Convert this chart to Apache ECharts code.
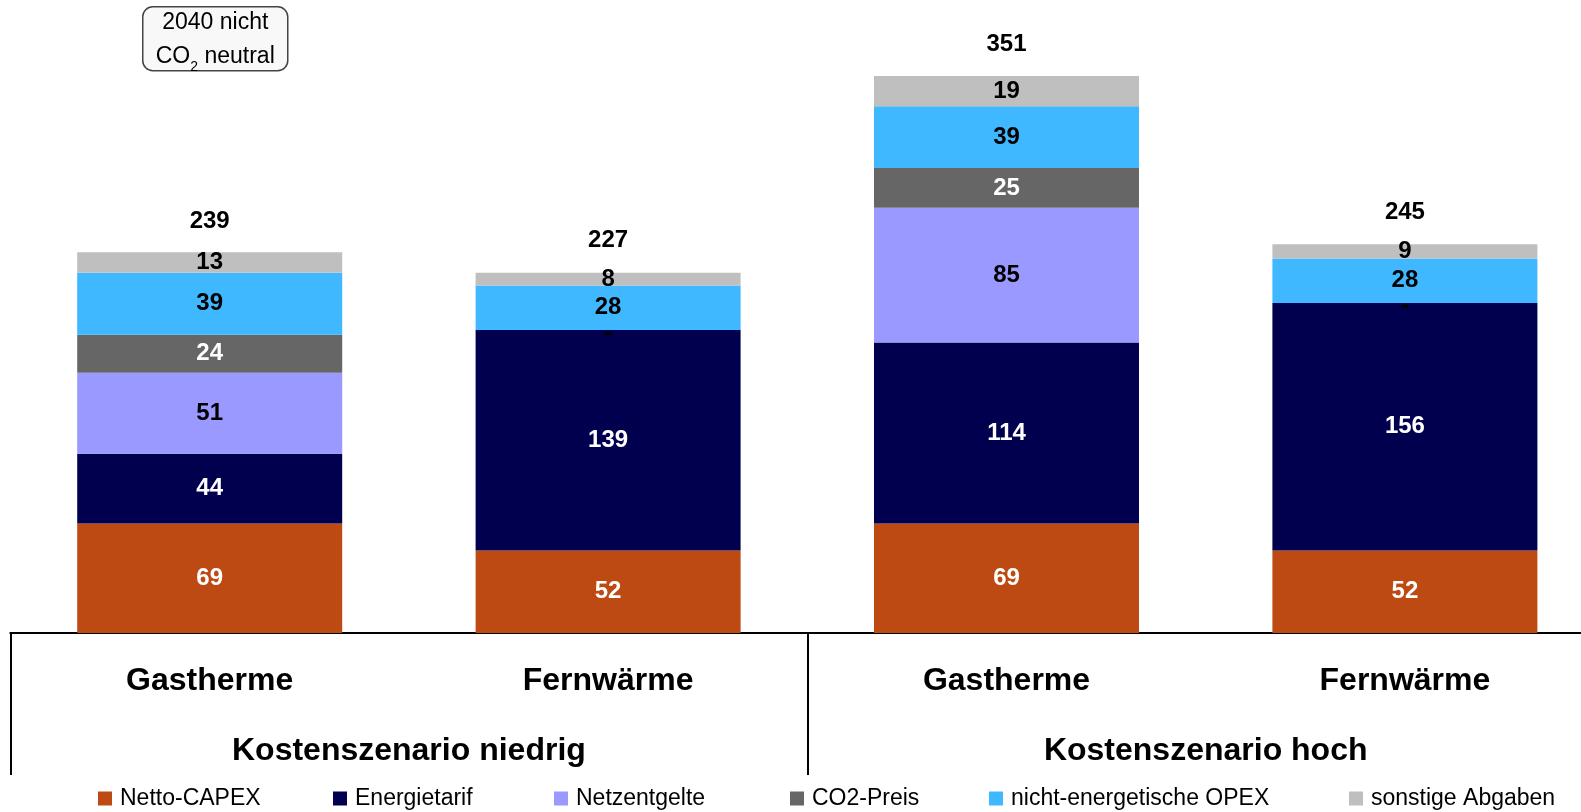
<!DOCTYPE html>
<html>
<head>
<meta charset="utf-8">
<script src="https://cdn.jsdelivr.net/npm/echarts@6/dist/echarts.min.js"></script>
<style>
html,body{margin:0;padding:0;background:#fff;}
#chart{width:1581px;height:812px;}
</style>
</head>
<body>
<div id="chart"></div>
<script>
const categories = ['Gastherme', 'Fernwärme', 'Gastherme', 'Fernwärme'];
const groups = ['Kostenszenario niedrig', 'Kostenszenario hoch'];
const seriesNames = ['Netto-CAPEX', 'Energietarif', 'Netzentgelte', 'CO2-Preis', 'nicht-energetische OPEX', 'sonstige Abgaben'];
const nettoCapex = [69, 52, 69, 52];
const energietarif = [44, 139, 114, 156];
const netzentgelte = [51, 0, 85, 0];
const co2Preis = [24, 0, 25, 0];
const opex = [39, 28, 39, 28];
const sonstige = [13, 8, 19, 9];
const totals = [239, 227, 351, 245];

const colors = ['#BD4A12', '#00004E', '#9999FF', '#666666', '#3FB8FF', '#BFBFBF'];
const labelColors = ['#fff', '#fff', '#000', '#fff', '#000', '#000'];
const values = [nettoCapex, energietarif, netzentgelte, co2Preis, opex, sonstige];
const FONT = '"Liberation Sans", Arial, sans-serif';

const chart = echarts.init(document.getElementById('chart'));

const series = seriesNames.map((name, i) => ({
  name: name,
  type: 'bar',
  stack: 'total',
  barWidth: 265,
  xAxisIndex: 0,
  data: values[i].map(v => v === 0 ? { value: 0, label: { color: '#000', fontSize: 26, offset: [0, 3] } } : v),
  itemStyle: { color: colors[i] },
  label: {
    show: true,
    position: 'inside',
    fontFamily: FONT,
    fontSize: 24,
    fontWeight: 'bold',
    color: labelColors[i],
    formatter: p => (p.value === 0 ? '-' : String(p.value))
  },
  emphasis: { disabled: true }
}));

series.push({
  name: 'Summe',
  type: 'bar',
  barWidth: 265,
  barGap: '-100%',
  xAxisIndex: 0,
  z: 1,
  data: totals,
  itemStyle: { color: 'rgba(0,0,0,0)' },
  label: {
    show: true,
    position: 'top',
    distance: 20,
    fontFamily: FONT,
    fontSize: 24,
    fontWeight: 'bold',
    color: '#000'
  },
  emphasis: { disabled: true },
  silent: true
});

const legendLefts = [98, 333, 554, 790, 989, 1349];
const legends = seriesNames.map((n, i) => ({
  data: [n],
  left: legendLefts[i],
  top: 787,
  padding: 0,
  itemWidth: 14,
  itemHeight: 14,
  itemGap: 0,
  icon: 'rect',
  selectedMode: false,
  textStyle: { fontFamily: FONT, fontSize: 23, color: '#000', padding: [0, 0, 0, 3] }
}));

const option = {
  animation: false,
  backgroundColor: '#fff',
  legend: legends,
  grid: { left: 10.5, top: 30, width: 1593.6, height: 603, containLabel: false, outerBoundsMode: 'none' },
  xAxis: [
    {
      type: 'category',
      data: categories,
      position: 'bottom',
      axisLine: { show: true, onZero: false, lineStyle: { color: '#000', width: 2 } },
      axisTick: { show: false },
      axisLabel: { margin: 32, fontFamily: FONT, fontSize: 32, fontWeight: 'bold', color: '#000', interval: 0 }
    },
    {
      type: 'category',
      data: groups,
      position: 'bottom',
      offset: 0,
      axisLine: { show: true, onZero: false, lineStyle: { color: '#000', width: 2 } },
      axisTick: { show: true, length: 142, inside: false, lineStyle: { color: '#000', width: 2 } },
      axisLabel: { margin: 102, fontFamily: FONT, fontSize: 32, fontWeight: 'bold', color: '#000', interval: 0 }
    }
  ],
  yAxis: {
    type: 'value',
    min: 0,
    max: 380,
    show: false,
    splitLine: { show: false }
  },
  graphic: [
    {
      type: 'group',
      left: 142,
      top: 6,
      children: [
        {
          type: 'rect',
          shape: { x: 0, y: 0, width: 145, height: 64, r: 10 },
          style: { fill: '#F8F8F8', stroke: '#444', lineWidth: 1.5 }
        },
        {
          type: 'text',
          style: {
            x: 72.5, y: 16, text: '2040 nicht',
            fontFamily: FONT, fontSize: 23, fill: '#000',
            align: 'center', verticalAlign: 'middle'
          }
        },
        {
          type: 'text',
          style: {
            x: 72.5, y: 48,
            text: '{a|CO}{s|2}{a| neutral}',
            align: 'center', verticalAlign: 'middle',
            rich: {
              a: { fontFamily: FONT, fontSize: 23, fill: '#000', color: '#000', verticalAlign: 'bottom', lineHeight: 26 },
              s: { fontFamily: FONT, fontSize: 14, fill: '#000', color: '#000', verticalAlign: 'bottom', lineHeight: 26, padding: [0, 0, -6, 0] }
            }
          }
        }
      ]
    }
  ],
  series: series
};

chart.setOption(option);
</script>
</body>
</html>
